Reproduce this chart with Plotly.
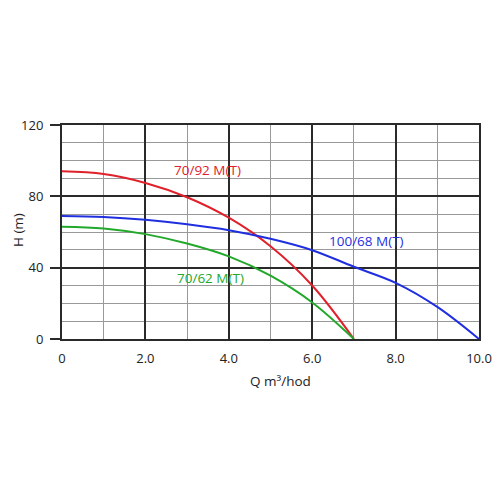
import plotly.graph_objects as go

q = [0, 1, 2, 3, 4, 5, 6, 7]
h_7092 = [94, 92.5, 87.5, 79.5, 68, 52, 30, 0]
h_7062 = [63, 62, 58.8, 53.5, 46.3, 35.5, 20.5, 0]
q_blue = [0, 1, 2, 3, 4, 5, 6, 7, 8, 9, 10]
h_10068 = [69, 68.4, 66.8, 64.3, 61, 56.2, 49.8, 40.5, 31.5, 18, 0]

x_ticks = [0, 2, 4, 6, 8, 10]
x_ticklabels = ["0", "2.0", "4.0", "6.0", "8.0", "10.0"]
y_ticks = [0, 40, 80, 120]

font = "Open Sans"

fig = go.Figure()
fig.add_trace(go.Scatter(x=q, y=h_7092, mode="lines", line=dict(color="#e0202a", width=2, shape="spline"), name="70/92 M(T)"))
fig.add_trace(go.Scatter(x=q_blue, y=h_10068, mode="lines", line=dict(color="#1f2fe0", width=2, shape="spline"), name="100/68 M(T)"))
fig.add_trace(go.Scatter(x=q, y=h_7062, mode="lines", line=dict(color="#22a82a", width=2, shape="spline"), name="70/62 M(T)"))

fig.add_annotation(x=3.5, y=95, text="70/92 M(T)", showarrow=False, font=dict(color="#e0202a", size=13.5, family=font))
fig.add_annotation(x=3.55, y=34, text="70/62 M(T)", showarrow=False, font=dict(color="#22a82a", size=13.5, family=font))
fig.add_annotation(x=7.3, y=55, text="100/68 M(T)", showarrow=False, font=dict(color="#1f2fe0", size=13.5, family=font))

# axis titles placed as annotations
fig.add_annotation(xref="paper", yref="paper", x=0.523, y=-0.195, yanchor="middle", xanchor="center",
                   text="Q m³/hod", showarrow=False, font=dict(size=13.5, family=font, color="#222"))
fig.add_annotation(xref="paper", yref="paper", x=-0.105, y=0.51, xanchor="center", yanchor="middle",
                   text="H (m)", textangle=-90, showarrow=False, font=dict(size=13.5, family=font, color="#222"))

fig.update_layout(
    width=500, height=500,
    margin=dict(l=62, r=21, t=125, b=161),
    paper_bgcolor="white", plot_bgcolor="white",
    showlegend=False,
    font=dict(family=font, size=13, color="#222"),
    xaxis=dict(
        range=[0, 10], tickvals=x_ticks, ticktext=x_ticklabels, automargin=False,
        showgrid=True, gridcolor="#2a2a2a", gridwidth=1.6,
        minor=dict(dtick=1, showgrid=True, gridcolor="#999", gridwidth=1, ticks=""),
        showline=True, linecolor="#2a2a2a", linewidth=2, mirror=True,
        ticks="", zeroline=False, ticklabelstandoff=6,
    ),
    yaxis=dict(
        range=[0, 120], tickvals=y_ticks, automargin=False,
        showgrid=True, gridcolor="#2a2a2a", gridwidth=1.6,
        minor=dict(dtick=10, showgrid=True, gridcolor="#999", gridwidth=1, ticks=""),
        showline=True, linecolor="#2a2a2a", linewidth=2, mirror=True,
        ticks="outside", ticklen=10, tickcolor="#2a2a2a", tickwidth=2, zeroline=False,
        ticklabelstandoff=4,
    ),
)

fig.write_html("out.html", config={"displayModeBar": False},
               post_script="document.body.style.margin='0';document.body.style.overflow='hidden';")
